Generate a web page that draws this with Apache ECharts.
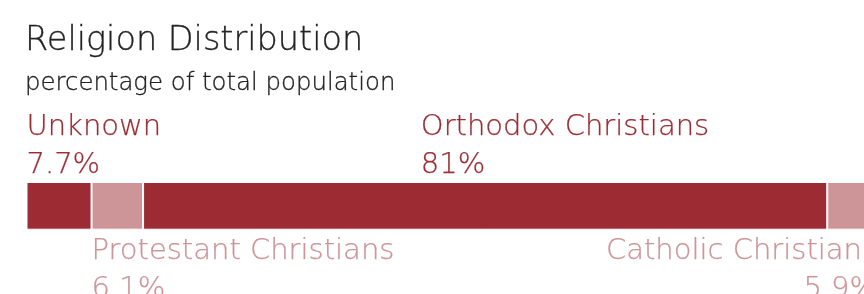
<!DOCTYPE html>
<html>
<head>
<meta charset="utf-8">
<script src="https://cdn.jsdelivr.net/npm/echarts@6/dist/echarts.min.js"></script>
<style>
html,body{margin:0;padding:0;background:#fff;}
#chart{width:864px;height:294px;}
</style>
</head>
<body>
<div id="chart"></div>
<script>
const titleText = 'Religion Distribution';
const subtitleText = 'percentage of total population';
const categories = ['Population'];
const groups = ['Unknown', 'Protestant Christians', 'Orthodox Christians', 'Catholic Christians'];
const values = [7.7, 6.1, 81, 5.9];

const DARK = '#9c2b33';
const LIGHT = '#cd9598';
const FONT = 'DejaVu Sans';

const total = values.reduce((a, b) => a + b, 0);

const labelPlacement = [
  { position: [0, 0], align: 'left', verticalAlign: 'bottom', offset: [0, 2] },
  { position: [0, '100%'], align: 'left', verticalAlign: 'top', offset: [0, 2.3] },
  { position: ['40.6%', 0], align: 'left', verticalAlign: 'bottom', offset: [0, 2] },
  { position: ['100%', '100%'], align: 'right', verticalAlign: 'top', offset: [0, 2.3] }
];

const series = groups.map((name, i) => {
  const color = i % 2 === 0 ? DARK : LIGHT;
  return {
    type: 'bar',
    name: name,
    stack: 'total',
    data: [values[i]],
    barWidth: '100%',
    clip: false,
    itemStyle: { color: color, borderColor: '#fff', borderWidth: 1 },
    emphasis: { disabled: true },
    label: Object.assign({
      show: true,
      color: color,
      fontFamily: FONT,
      fontWeight: 200,
      fontSize: 29,
      lineHeight: 38,
      textBorderColor: color,
      textBorderWidth: 0.25,
      formatter: p => p.seriesName + '\n' + p.value + '%'
    }, labelPlacement[i])
  };
});

const chart = echarts.init(document.getElementById('chart'), null, { renderer: 'canvas' });
chart.setOption({
  animation: false,
  backgroundColor: '#fff',
  title: [
    {
      text: titleText,
      left: 25,
      top: 25,
      padding: 0,
      textStyle: { fontFamily: FONT, fontWeight: 200, fontSize: 33.5, lineHeight: 33.5, color: '#222',
        textBorderColor: '#222', textBorderWidth: 0.3 }
    },
    {
      text: subtitleText,
      left: 25,
      top: 71.5,
      padding: 0,
      textStyle: { fontFamily: FONT, fontWeight: 200, fontSize: 24.4, lineHeight: 24.4, color: '#222',
        textBorderColor: '#222', textBorderWidth: 0.3 }
    }
  ],
  grid: { left: 26.5, top: 182, width: 850.6, height: 47.7, containLabel: false, outerBoundsMode: 'none' },
  xAxis: { type: 'value', min: 0, max: total, show: false },
  yAxis: { type: 'category', data: categories, show: false },
  tooltip: { show: false },
  series: series
});
</script>
</body>
</html>
